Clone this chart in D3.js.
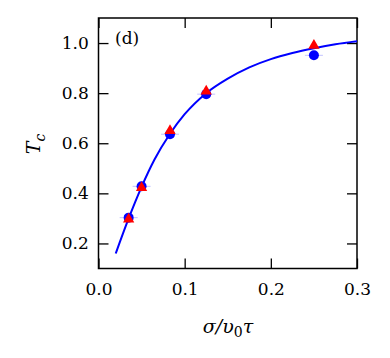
<!DOCTYPE html>
<html>
<head>
<meta charset="utf-8">
<script src="https://cdn.jsdelivr.net/npm/d3@7"></script>
<style>
  body { margin: 0; background: #fff; }
  svg text { font-family: "DejaVu Serif", serif; fill: #000; }
</style>
</head>
<body>
<svg id="myViz" width="390" height="358"></svg>
<script>
// data
var xTicks = [0.0, 0.1, 0.2, 0.3];
var yTicks = [0.2, 0.4, 0.6, 0.8, 1.0];

var sigma = [0.035, 0.05, 0.083, 0.125, 0.25];
var tcCircle = [0.303, 0.428, 0.636, 0.796, 0.951];
var tcTriangle = [0.297, 0.422, 0.65, 0.808, 0.99];

var curveX = [0.02, 0.035, 0.05, 0.065, 0.083, 0.1, 0.125, 0.15, 0.175, 0.2, 0.225, 0.25, 0.275, 0.3];
var curveY = [0.16, 0.30, 0.426, 0.535, 0.638, 0.716, 0.80, 0.858, 0.903, 0.936, 0.960, 0.979, 0.995, 1.007];

var svg = d3.select('#myViz');
var pLeft = 98.5, pRight = 357, pTop = 18, pBottom = 268.5;

var x = d3.scaleLinear().domain([0, 0.3]).range([pLeft, pRight]);
var y = d3.scaleLinear().domain([0.1, 1.1]).range([pBottom, pTop]);

// frame + inward ticks on all sides
var axB = svg.append('g').attr('transform', 'translate(0,' + pBottom + ')')
    .call(d3.axisBottom(x).tickValues(xTicks).tickFormat(d3.format('.1f')).tickSizeInner(-10).tickSizeOuter(0).tickPadding(14));
var axT = svg.append('g').attr('transform', 'translate(0,' + pTop + ')')
    .call(d3.axisTop(x).tickValues(xTicks).tickFormat('').tickSizeInner(-10).tickSizeOuter(0));
var axL = svg.append('g').attr('transform', 'translate(' + pLeft + ',0)')
    .call(d3.axisLeft(y).tickValues(yTicks).tickFormat(d3.format('.1f')).tickSizeInner(-10).tickSizeOuter(0).tickPadding(8));
var axR = svg.append('g').attr('transform', 'translate(' + pRight + ',0)')
    .call(d3.axisRight(y).tickValues(yTicks).tickFormat('').tickSizeInner(-10).tickSizeOuter(0));

[axB, axT, axL, axR].forEach(function (a) {
    a.select('.domain').remove();
    a.selectAll('line').attr('stroke', '#000').attr('stroke-width', 1.3);
    a.selectAll('text').style('font-size', '17px').style('font-family', '"DejaVu Serif", serif');
});
axL.selectAll('text').attr('dx', '-0.1em');

svg.append('rect')
    .attr('x', pLeft).attr('y', pTop)
    .attr('width', pRight - pLeft).attr('height', pBottom - pTop)
    .attr('fill', 'none').attr('stroke', '#000').attr('stroke-width', 1.5);

// fitted curve
var pts = curveX.map(function (d, i) { return [d, curveY[i]]; });
var line = d3.line()
    .x(function (d) { return x(d[0]); })
    .y(function (d) { return y(d[1]); })
    .curve(d3.curveMonotoneX);
svg.append('path').datum(pts)
    .attr('d', line).attr('fill', 'none')
    .attr('stroke', '#0000ff').attr('stroke-width', 2);

// faint error bars
svg.selectAll('.ebc').data(sigma).enter().append('line')
    .attr('x1', function (d) { return x(d) - 9; })
    .attr('x2', function (d) { return x(d) + 9; })
    .attr('y1', function (d, i) { return y(tcCircle[i]); })
    .attr('y2', function (d, i) { return y(tcCircle[i]); })
    .attr('stroke', '#9999ff').attr('stroke-opacity', 0.6).attr('stroke-width', 1);

// circles
svg.selectAll('.circ').data(sigma).enter().append('circle')
    .attr('cx', function (d) { return x(d); })
    .attr('cy', function (d, i) { return y(tcCircle[i]); })
    .attr('r', 5)
    .attr('fill', '#0000ff');

// triangles
var tri = d3.symbol().type(d3.symbolTriangle).size(55);
svg.selectAll('.tri').data(sigma).enter().append('path')
    .attr('d', tri)
    .attr('transform', function (d, i) { return 'translate(' + x(d) + ',' + y(tcTriangle[i]) + ')'; })
    .attr('fill', '#ff0000');

// panel label
svg.append('text').attr('x', 115).attr('y', 44)
    .style('font-size', '17px').text('(d)');

// axis labels
var xl = svg.append('text').attr('x', 228).attr('y', 333)
    .attr('text-anchor', 'middle').style('font-size', '19px').style('font-style', 'italic');
xl.append('tspan').text('σ/υ');
xl.append('tspan').attr('dy', 4).style('font-size', '14px').style('font-style', 'normal').text('0');
xl.append('tspan').attr('dy', -4).text('τ');

var yl = svg.append('text')
    .attr('transform', 'translate(40,144) rotate(-90)')
    .attr('text-anchor', 'middle').style('font-size', '19px').style('font-style', 'italic');
yl.append('tspan').text('T');
yl.append('tspan').attr('dy', 5).style('font-size', '14px').text('c');
</script>
</body>
</html>
